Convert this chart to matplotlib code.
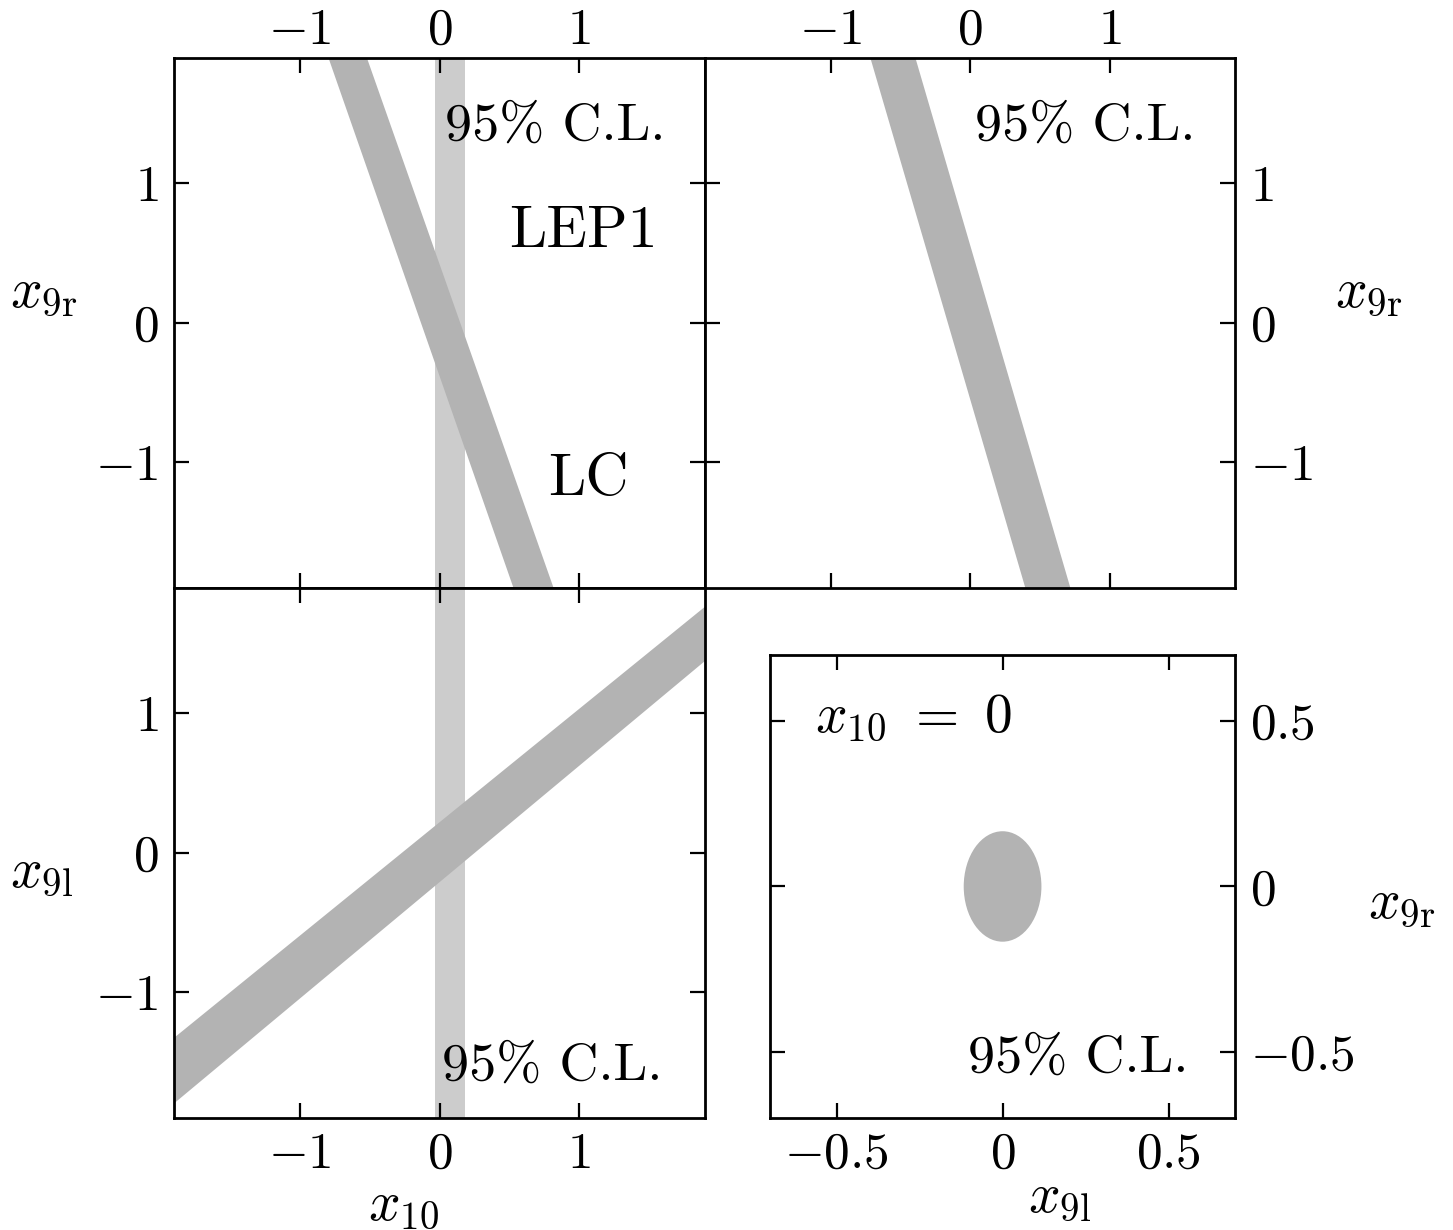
import matplotlib
matplotlib.use('Agg')
import matplotlib.pyplot as plt
from matplotlib.patches import Ellipse

plt.rcParams['font.family'] = 'serif'
plt.rcParams['font.serif'] = ['cmr10']
plt.rcParams['mathtext.fontset'] = 'cm'
plt.rcParams['axes.formatter.use_mathtext'] = True

# constraint bands
x10_band = [-0.03, 0.18]                 # LEP1 limit on x10 (vertical band)

# LC band in (x10, x9r) plane, edges given at x9r = -1.9 and 1.9
lc_tl_y = [-1.9, 1.9]
lc_tl_left = [0.527, -0.797]
lc_tl_right = [0.814, -0.522]

# LC band in (x9l, x9r) plane
lc_tr_y = [-1.9, 1.9]
lc_tr_left = [0.394, -0.717]
lc_tr_right = [0.717, -0.394]

# LC band in (x10, x9l) plane, edges at x10 = -1.9 and 1.9
lc_bl_x = [-1.9, 1.9]
lc_bl_low = [-1.789, 1.383]
lc_bl_high = [-1.319, 1.772]

# ellipse for x10 = 0 (x9l, x9r)
ell_center = (0.0, 0.0)
ell_halfwidth = 0.117
ell_halfheight = 0.167

big_ticks = [-1, 0, 1]
big_labels = [r'$-1$', r'$0$', r'$1$']
small_ticks = [-0.5, 0, 0.5]
small_labels = [r'$-0.5$', r'$0$', r'$0.5$']

dark = '#b3b3b3'
light = '#cccccc'
tick_fs = 37
lab_fs = 40
cl_fs = 39
name_fs = 43

fig = plt.figure(figsize=(14.53, 12.3), dpi=100)
ax_tl = fig.add_axes([0.1198, 0.5220, 0.3654, 0.4309])
ax_tr = fig.add_axes([0.4852, 0.5220, 0.3648, 0.4309])
ax_bl = fig.add_axes([0.1198, 0.0911, 0.3654, 0.4309])
ax_br = fig.add_axes([0.5300, 0.0911, 0.3200, 0.3764])


def style(ax, ticks, labels, lim, xside, yside):
    ax.set_xlim(-lim, lim)
    ax.set_ylim(-lim, lim)
    ax.set_xticks(ticks)
    ax.set_yticks(ticks)
    ax.set_xticklabels(labels)
    ax.set_yticklabels(labels)
    for s in ax.spines.values():
        s.set_linewidth(2.0)
    ax.tick_params(direction='in', length=11, width=1.6, top=True, bottom=True,
                   left=True, right=True, labelsize=tick_fs,
                   labeltop=(xside == 'top'), labelbottom=(xside == 'bottom'),
                   labelleft=(yside == 'left'), labelright=(yside == 'right'))
    ax.xaxis.set_tick_params(pad=(3 if xside == 'top' else 10))
    ax.yaxis.set_tick_params(pad=11)


# top left
ax_tl.axvspan(x10_band[0], x10_band[1], color=light, lw=0, zorder=1)
ax_tl.fill_betweenx(lc_tl_y, lc_tl_left, lc_tl_right, color=dark, lw=0, zorder=2)
style(ax_tl, big_ticks, big_labels, 1.9, 'top', 'left')
ax_tl.text(1.617, 1.312, '95% C.L.', fontsize=cl_fs, ha='right', va='baseline')
ax_tl.text(1.559, 0.547, 'LEP1', fontsize=name_fs, ha='right', va='baseline')
ax_tl.text(1.351, -1.233, 'LC', fontsize=name_fs, ha='right', va='baseline')

# top right
ax_tr.fill_betweenx(lc_tr_y, lc_tr_left, lc_tr_right, color=dark, lw=0, zorder=2)
style(ax_tr, big_ticks, big_labels, 1.9, 'top', 'right')
ax_tr.text(1.613, 1.312, '95% C.L.', fontsize=cl_fs, ha='right', va='baseline')

# bottom left
ax_bl.axvspan(x10_band[0], x10_band[1], color=light, lw=0, zorder=1)
ax_bl.fill_between(lc_bl_x, lc_bl_low, lc_bl_high, color=dark, lw=0, zorder=2)
style(ax_bl, big_ticks, big_labels, 1.9, 'bottom', 'left')
ax_bl.text(1.598, -1.627, '95% C.L.', fontsize=cl_fs, ha='right', va='baseline')

# bottom right
ax_br.add_patch(Ellipse(ell_center, 2 * ell_halfwidth, 2 * ell_halfheight,
                        color=dark, lw=0))
style(ax_br, small_ticks, small_labels, 0.7, 'bottom', 'right')
ax_br.text(0.560, -0.56, '95% C.L.', fontsize=cl_fs, ha='right', va='baseline')
ax_br.text(-0.566, 0.468, r'$x_{10}\ =\ 0$', fontsize=lab_fs, ha='left', va='baseline')

# axis labels
fig.text(0.007, 0.7504, r'$x_{9\mathrm{r}}$', fontsize=lab_fs, ha='left', va='baseline')
fig.text(0.9188, 0.7504, r'$x_{9\mathrm{r}}$', fontsize=lab_fs, ha='left', va='baseline')
fig.text(0.007, 0.2789, r'$x_{9\mathrm{l}}$', fontsize=lab_fs, ha='left', va='baseline')
fig.text(0.9415, 0.2537, r'$x_{9\mathrm{r}}$', fontsize=lab_fs, ha='left', va='baseline')
fig.text(0.2533, 0.0081, r'$x_{10}$', fontsize=lab_fs, ha='left', va='baseline')
fig.text(0.7075, 0.0149, r'$x_{9\mathrm{l}}$', fontsize=lab_fs, ha='left', va='baseline')

plt.savefig('out.png', dpi=100)
